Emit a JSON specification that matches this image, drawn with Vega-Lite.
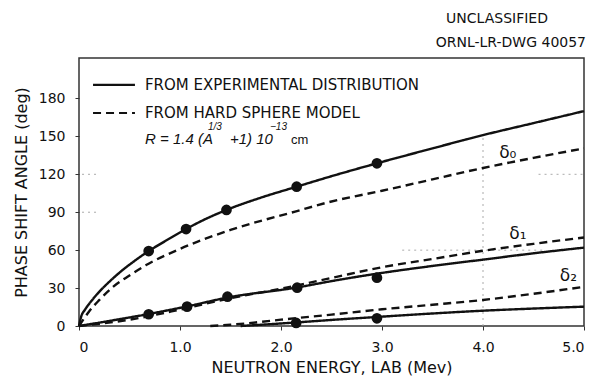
{
  "$schema": "https://vega.github.io/schema/vega-lite/v6.json",
  "width": 505,
  "height": 268,
  "autosize": {"type": "none"},
  "padding": {"left": 79, "top": 58, "right": 13, "bottom": 53},
  "background": "white",
  "config": {
    "font": "DejaVu Sans",
    "view": {"stroke": "#333", "strokeWidth": 1.5},
    "axis": {
      "domain": false,
      "grid": false,
      "tickColor": "#333",
      "tickSize": 4,
      "labelColor": "#111",
      "labelFontSize": 14,
      "labelFont": "DejaVu Sans",
      "titleFont": "DejaVu Sans",
      "titleFontSize": 16,
      "titleFontWeight": "normal",
      "titleColor": "#111"
    }
  },
  "datasets": {
    "curves": [
      {"E": 0, "deg": 0, "curve": "d0_exp", "model": "exp"},
      {"E": 0.02, "deg": 7, "curve": "d0_exp", "model": "exp"},
      {"E": 0.06, "deg": 13, "curve": "d0_exp", "model": "exp"},
      {"E": 0.12, "deg": 19.5, "curve": "d0_exp", "model": "exp"},
      {"E": 0.2, "deg": 27, "curve": "d0_exp", "model": "exp"},
      {"E": 0.3, "deg": 35, "curve": "d0_exp", "model": "exp"},
      {"E": 0.42, "deg": 43.5, "curve": "d0_exp", "model": "exp"},
      {"E": 0.55, "deg": 51.5, "curve": "d0_exp", "model": "exp"},
      {"E": 0.69, "deg": 59.3, "curve": "d0_exp", "model": "exp"},
      {"E": 0.85, "deg": 67, "curve": "d0_exp", "model": "exp"},
      {"E": 1.06, "deg": 76.7, "curve": "d0_exp", "model": "exp"},
      {"E": 1.25, "deg": 84.5, "curve": "d0_exp", "model": "exp"},
      {"E": 1.46, "deg": 91.8, "curve": "d0_exp", "model": "exp"},
      {"E": 1.8, "deg": 101.5, "curve": "d0_exp", "model": "exp"},
      {"E": 2.155, "deg": 110.2, "curve": "d0_exp", "model": "exp"},
      {"E": 2.5, "deg": 118.5, "curve": "d0_exp", "model": "exp"},
      {"E": 2.95, "deg": 128.7, "curve": "d0_exp", "model": "exp"},
      {"E": 3.5, "deg": 140.5, "curve": "d0_exp", "model": "exp"},
      {"E": 4.0, "deg": 151, "curve": "d0_exp", "model": "exp"},
      {"E": 4.5, "deg": 160.5, "curve": "d0_exp", "model": "exp"},
      {"E": 5.0, "deg": 170, "curve": "d0_exp", "model": "exp"},

      {"E": 0, "deg": 0, "curve": "d0_hs", "model": "hs"},
      {"E": 0.05, "deg": 6, "curve": "d0_hs", "model": "hs"},
      {"E": 0.1, "deg": 11.5, "curve": "d0_hs", "model": "hs"},
      {"E": 0.2, "deg": 20.5, "curve": "d0_hs", "model": "hs"},
      {"E": 0.33, "deg": 30.5, "curve": "d0_hs", "model": "hs"},
      {"E": 0.5, "deg": 40, "curve": "d0_hs", "model": "hs"},
      {"E": 0.66, "deg": 48, "curve": "d0_hs", "model": "hs"},
      {"E": 1.0, "deg": 61, "curve": "d0_hs", "model": "hs"},
      {"E": 1.5, "deg": 76, "curve": "d0_hs", "model": "hs"},
      {"E": 2.14, "deg": 90.5, "curve": "d0_hs", "model": "hs"},
      {"E": 2.5, "deg": 98.5, "curve": "d0_hs", "model": "hs"},
      {"E": 3.0, "deg": 107, "curve": "d0_hs", "model": "hs"},
      {"E": 3.5, "deg": 116, "curve": "d0_hs", "model": "hs"},
      {"E": 4.0, "deg": 125, "curve": "d0_hs", "model": "hs"},
      {"E": 4.5, "deg": 133, "curve": "d0_hs", "model": "hs"},
      {"E": 5.0, "deg": 140.5, "curve": "d0_hs", "model": "hs"},

      {"E": 0, "deg": 0, "curve": "d1_exp", "model": "exp"},
      {"E": 0.3, "deg": 4, "curve": "d1_exp", "model": "exp"},
      {"E": 0.69, "deg": 9.5, "curve": "d1_exp", "model": "exp"},
      {"E": 1.07, "deg": 15.5, "curve": "d1_exp", "model": "exp"},
      {"E": 1.47, "deg": 22.5, "curve": "d1_exp", "model": "exp"},
      {"E": 2.16, "deg": 30.5, "curve": "d1_exp", "model": "exp"},
      {"E": 2.5, "deg": 35.5, "curve": "d1_exp", "model": "exp"},
      {"E": 3.0, "deg": 42, "curve": "d1_exp", "model": "exp"},
      {"E": 3.5, "deg": 47.5, "curve": "d1_exp", "model": "exp"},
      {"E": 4.0, "deg": 52.5, "curve": "d1_exp", "model": "exp"},
      {"E": 4.5, "deg": 57.5, "curve": "d1_exp", "model": "exp"},
      {"E": 5.0, "deg": 62, "curve": "d1_exp", "model": "exp"},

      {"E": 0, "deg": 0, "curve": "d1_hs", "model": "hs"},
      {"E": 0.5, "deg": 5, "curve": "d1_hs", "model": "hs"},
      {"E": 1.0, "deg": 13, "curve": "d1_hs", "model": "hs"},
      {"E": 1.5, "deg": 22, "curve": "d1_hs", "model": "hs"},
      {"E": 2.0, "deg": 29.5, "curve": "d1_hs", "model": "hs"},
      {"E": 2.5, "deg": 38, "curve": "d1_hs", "model": "hs"},
      {"E": 3.0, "deg": 46.5, "curve": "d1_hs", "model": "hs"},
      {"E": 3.5, "deg": 53, "curve": "d1_hs", "model": "hs"},
      {"E": 4.0, "deg": 59.5, "curve": "d1_hs", "model": "hs"},
      {"E": 4.5, "deg": 65, "curve": "d1_hs", "model": "hs"},
      {"E": 5.0, "deg": 70, "curve": "d1_hs", "model": "hs"},

      {"E": 1.3, "deg": 0, "curve": "d2_hs", "model": "hs"},
      {"E": 1.5, "deg": 1, "curve": "d2_hs", "model": "hs"},
      {"E": 1.75, "deg": 2.8, "curve": "d2_hs", "model": "hs"},
      {"E": 2.0, "deg": 5, "curve": "d2_hs", "model": "hs"},
      {"E": 2.5, "deg": 9, "curve": "d2_hs", "model": "hs"},
      {"E": 3.0, "deg": 13.2, "curve": "d2_hs", "model": "hs"},
      {"E": 3.5, "deg": 16.8, "curve": "d2_hs", "model": "hs"},
      {"E": 4.0, "deg": 20.6, "curve": "d2_hs", "model": "hs"},
      {"E": 4.5, "deg": 25.5, "curve": "d2_hs", "model": "hs"},
      {"E": 5.0, "deg": 31, "curve": "d2_hs", "model": "hs"},

      {"E": 1.6, "deg": 0, "curve": "d2_exp", "model": "exp"},
      {"E": 2.15, "deg": 2.8, "curve": "d2_exp", "model": "exp"},
      {"E": 2.5, "deg": 4.8, "curve": "d2_exp", "model": "exp"},
      {"E": 3.0, "deg": 7.4, "curve": "d2_exp", "model": "exp"},
      {"E": 3.5, "deg": 9.9, "curve": "d2_exp", "model": "exp"},
      {"E": 4.0, "deg": 12.1, "curve": "d2_exp", "model": "exp"},
      {"E": 4.5, "deg": 13.8, "curve": "d2_exp", "model": "exp"},
      {"E": 5.0, "deg": 15.3, "curve": "d2_exp", "model": "exp"}
    ],
    "measured": [
      {"E": 0.69, "deg": 59.3, "wave": "d0"},
      {"E": 1.06, "deg": 76.7, "wave": "d0"},
      {"E": 1.46, "deg": 91.8, "wave": "d0"},
      {"E": 2.155, "deg": 110.2, "wave": "d0"},
      {"E": 2.95, "deg": 128.7, "wave": "d0"},
      {"E": 0.69, "deg": 9.3, "wave": "d1"},
      {"E": 1.07, "deg": 15.3, "wave": "d1"},
      {"E": 1.47, "deg": 23.2, "wave": "d1"},
      {"E": 2.16, "deg": 30.3, "wave": "d1"},
      {"E": 2.95, "deg": 38.2, "wave": "d1"},
      {"E": 2.15, "deg": 2.4, "wave": "d2"},
      {"E": 2.95, "deg": 6.1, "wave": "d2"}
    ],
    "guides": [
      {"E": 4.0, "E2": 4.0, "deg": 0, "deg2": 150},
      {"E": 3.2, "E2": 4.6, "deg": 60, "deg2": 60},
      {"E": 4.55, "E2": 5.0, "deg": 120, "deg2": 120},
      {"E": 0.03, "E2": 0.17, "deg": 120, "deg2": 120},
      {"E": 0.03, "E2": 0.17, "deg": 90, "deg2": 90}
    ],
    "waveLabels": [
      {"E": 4.16, "deg": 137, "label": "δ₀"},
      {"E": 4.26, "deg": 73, "label": "δ₁"},
      {"E": 4.76, "deg": 39.5, "label": "δ₂"}
    ],
    "key": [
      {"E": 0.139, "E2": 0.554, "Etext": 0.653, "deg": 190.7, "model": "exp", "label": "FROM EXPERIMENTAL DISTRIBUTION"},
      {"E": 0.139, "E2": 0.554, "Etext": 0.653, "deg": 168.5, "model": "hs", "label": "FROM HARD SPHERE MODEL"}
    ],
    "formulaMain": [
      {"E": 0.653, "deg": 148.3, "text": "R = 1.4 (A"},
      {"E": 1.495, "deg": 148.3, "text": "+1) 10"}
    ],
    "formulaSup": [
      {"E": 1.277, "deg": 157.4, "text": "1/3"},
      {"E": 1.891, "deg": 157.4, "text": "−13"}
    ],
    "formulaUnit": [
      {"E": 2.099, "deg": 147.5, "text": "cm"}
    ],
    "stampTop": [
      {"E": 4.139, "deg": 243, "text": "UNCLASSIFIED"}
    ],
    "stampBottom": [
      {"E": 5.02, "deg": 224, "text": "ORNL-LR-DWG 40057"}
    ]
  },
  "encoding": {
    "x": {
      "field": "E",
      "type": "quantitative",
      "scale": {"domain": [0, 5], "nice": false, "zero": false},
      "axis": {
        "title": "NEUTRON ENERGY, LAB (Mev)",
        "values": [0, 1, 2, 3, 4, 5],
        "labelExpr": "datum.value == 0 ? '0' : format(datum.value, '.1f')",
        "labelPadding": 10,
        "titlePadding": 5
      }
    },
    "y": {
      "field": "deg",
      "type": "quantitative",
      "scale": {"domain": [0, 212], "nice": false},
      "axis": {
        "title": "PHASE SHIFT ANGLE (deg)",
        "values": [0, 30, 60, 90, 120, 150, 180],
        "labelPadding": 10,
        "titlePadding": 9
      }
    }
  },
  "layer": [
    {
      "data": {"name": "guides"},
      "mark": {"type": "rule", "strokeWidth": 1, "color": "#aaa", "strokeDash": [2, 4]},
      "encoding": {"x2": {"field": "E2"}, "y2": {"field": "deg2"}}
    },
    {
      "data": {"name": "curves"},
      "mark": {"type": "line", "interpolate": "monotone", "strokeWidth": 2.4, "color": "#111"},
      "encoding": {
        "detail": {"field": "curve"},
        "strokeDash": {
          "field": "model",
          "type": "nominal",
          "scale": {"domain": ["exp", "hs"], "range": [[1, 0], [8, 5]]},
          "legend": null
        }
      }
    },
    {
      "data": {"name": "measured"},
      "mark": {"type": "circle", "size": 115, "color": "#111", "opacity": 1}
    },
    {
      "data": {"name": "waveLabels"},
      "mark": {"type": "text", "fontSize": 17, "color": "#111", "align": "left", "baseline": "middle"},
      "encoding": {"text": {"field": "label"}}
    },
    {
      "data": {"name": "key"},
      "mark": {"type": "rule", "strokeWidth": 2.2, "color": "#111"},
      "encoding": {
        "x2": {"field": "E2"},
        "strokeDash": {
          "field": "model",
          "type": "nominal",
          "scale": {"domain": ["exp", "hs"], "range": [[1, 0], [8, 5]]},
          "legend": null
        }
      }
    },
    {
      "data": {"name": "key"},
      "mark": {"type": "text", "fontSize": 15, "color": "#111", "align": "left", "baseline": "middle"},
      "encoding": {"x": {"field": "Etext", "type": "quantitative"}, "text": {"field": "label"}}
    },
    {
      "data": {"name": "formulaMain"},
      "mark": {"type": "text", "font": "Liberation Sans", "fontSize": 15, "fontStyle": "italic", "color": "#111", "align": "left", "baseline": "middle"},
      "encoding": {"text": {"field": "text"}}
    },
    {
      "data": {"name": "formulaSup"},
      "mark": {"type": "text", "font": "Liberation Sans", "fontSize": 10, "fontStyle": "italic", "color": "#111", "align": "left", "baseline": "middle"},
      "encoding": {"text": {"field": "text"}}
    },
    {
      "data": {"name": "formulaUnit"},
      "mark": {"type": "text", "font": "Liberation Sans", "fontSize": 13, "color": "#111", "align": "left", "baseline": "middle"},
      "encoding": {"text": {"field": "text"}}
    },
    {
      "data": {"name": "stampTop"},
      "mark": {"type": "text", "fontSize": 14, "color": "#111", "align": "center", "baseline": "middle"},
      "encoding": {"text": {"field": "text"}}
    },
    {
      "data": {"name": "stampBottom"},
      "mark": {"type": "text", "fontSize": 14, "color": "#111", "align": "right", "baseline": "middle"},
      "encoding": {"text": {"field": "text"}}
    }
  ]
}
